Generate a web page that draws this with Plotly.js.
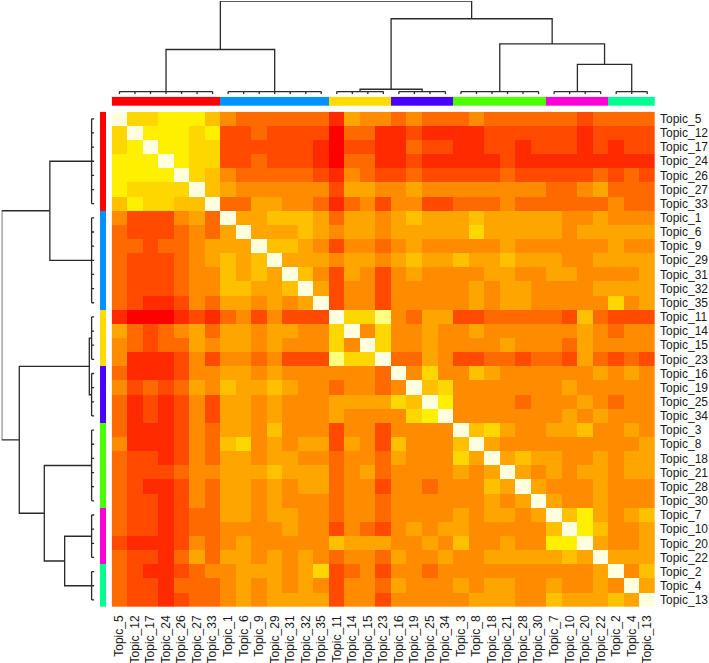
<!DOCTYPE html>
<html><head><meta charset="utf-8">
<script src="https://cdn.plot.ly/plotly-3.0.1.min.js"></script>
<style>html,body{margin:0;padding:0;background:#fff;} #chart{width:709px;height:663px;}</style>
</head><body><div id="chart"></div>
<script>
// ---------------- data ----------------
const topics = ['Topic_5','Topic_12','Topic_17','Topic_24','Topic_26','Topic_27','Topic_33',
  'Topic_1','Topic_6','Topic_9','Topic_29','Topic_31','Topic_32','Topic_35',
  'Topic_11','Topic_14','Topic_15','Topic_23',
  'Topic_16','Topic_19','Topic_25','Topic_34',
  'Topic_3','Topic_8','Topic_18','Topic_21','Topic_28','Topic_30',
  'Topic_7','Topic_10','Topic_20','Topic_22',
  'Topic_2','Topic_4','Topic_13'];
const clusterSizes = [7, 7, 4, 4, 6, 4, 3];
const clusterColors = ['#FF0000', '#0092FF', '#FFDB00', '#4900FF', '#49FF00', '#FF00DB', '#00FF92'];
// dendrogram: height of the (near-zero) merges inside each cluster, then merges [childA, childB, height]
// ids 0-6 = clusters, ids 7+ = merges in listed order
const clusterMergeHeight = 0.029;
const merges = [[2, 3, 0.054], [5, 6, 0.32], [4, 8, 0.54], [0, 1, 0.48], [7, 9, 0.81], [10, 11, 1.0]];
// colour levels (0 = red ... 10 = cream), upper triangle of the symmetric matrix, row i gives columns i..34
const upper = [
 [10,7,7,8,8,8,6, 4,3,3,3,3,3,3, 1,5,4,4, 3,4,3,3, 3,4,3,3,3,3,3,3,2,3,3,3,3],
 [10,8,8,8,7,8, 2,2,3,2,2,2,2, 0,3,3,1, 1,2,1,1, 1,1,2,2,2,2,2,2,1,2,2,2,2],
 [10,8,8,7,7, 2,2,2,2,2,2,1, 0,2,2,1, 1,3,2,2, 1,1,2,2,1,2,2,2,1,2,1,2,2],
 [10,8,7,7, 2,2,3,2,2,2,1, 0,3,3,1, 1,2,1,1, 1,1,1,2,1,1,1,1,1,1,1,1,1],
 [10,7,6, 4,3,3,3,3,3,2, 1,4,3,2, 2,3,2,2, 2,2,2,3,2,2,2,2,2,3,2,3,2],
 [10,6, 5,4,4,4,4,4,4, 2,5,5,4, 4,5,4,4, 4,4,4,4,4,4,3,3,4,5,3,3,3],
 [10, 3,3,5,5,4,4,3, 1,3,4,2, 4,4,2,2, 3,3,3,4,3,3,3,3,3,3,4,3,3],
 [10,5,5,6,6,6,5, 3,5,5,4, 5,6,5,5, 5,6,5,5,5,5,5,4,4,5,4,4,4],
 [10,5,5,5,6,5, 4,5,5,4, 5,5,5,5, 5,7,5,5,5,5,5,4,5,5,5,5,5],
 [10,6,6,5,4, 2,4,4,3, 4,5,4,4, 4,4,4,5,4,4,4,4,4,4,5,4,4],
 [10,5,5,5, 4,5,5,4, 5,6,5,5, 6,5,5,6,5,5,5,4,4,5,5,5,5],
 [10,6,4, 2,5,4,2, 4,5,4,4, 4,4,5,5,4,4,5,5,4,4,4,4,5],
 [10,5, 2,4,4,2, 4,4,4,4, 4,5,4,5,5,4,4,4,4,5,5,5,5],
 [10, 2,4,4,2, 4,4,4,4, 4,5,4,5,5,4,4,4,4,4,7,4,5],
 [10,7,7,9, 4,3,5,5, 2,2,3,3,3,3,3,2,6,3,2,2,2],
 [10,4,7, 4,4,5,4, 4,5,4,4,4,4,4,4,5,4,3,4,4],
 [10,7, 4,4,5,4, 4,4,4,5,4,4,4,3,5,4,4,4,4],
 [10, 3,3,5,4, 2,2,3,3,2,3,3,2,5,3,2,3,2],
 [10,4,7,4, 4,6,5,4,4,4,4,4,4,5,4,5,4],
 [10,6,7, 4,4,4,4,4,4,4,5,4,4,4,4,4],
 [10,8, 4,4,4,4,3,4,4,4,5,4,3,4,4],
 [10, 4,4,4,4,4,4,4,5,4,5,4,4,4],
 [10,6,7,5,4,4,5,5,6,4,4,5,4],
 [10,5,4,4,4,4,4,4,4,4,4,5],
 [10,5,6,5,5,4,4,5,4,5,5],
 [10,5,4,5,4,5,5,4,5,5],
 [10,5,4,4,4,5,4,4,4],
 [10,5,4,4,5,4,4,4],
 [10,6,8,5,4,5,6],
 [10,8,6,4,4,5],
 [10,5,4,4,5],
 [10,5,5,5],
 [10,4,6],
 [10,5],
 [10]
];
const levelColors = ['#FF0000','#FF2A00','#FF4A00','#FF6A00','#FF8C00','#FFA500','#FFC000','#FFD700','#FFF000','#FFFF80','#FFFFE0'];

// ---------------- build tables ----------------
const n = topics.length;
const z = Array.from({length: n}, () => new Array(n).fill(null));
upper.forEach((row, i) => row.forEach((v, k) => { z[i][i + k] = v; z[i + k][i] = v; }));
const clusterOf = [];
clusterSizes.forEach((s, c) => { for (let k = 0; k < s; k++) clusterOf.push(c); });

const nodePos = [], nodeH = [], segs = [];
let start = 0;
clusterSizes.forEach(s => {
  const first = start, last = start + s - 1;
  segs.push([[first, clusterMergeHeight], [last, clusterMergeHeight]]);
  for (let k = first; k <= last; k++) segs.push([[k, 0], [k, clusterMergeHeight]]);
  nodePos.push((first + last) / 2); nodeH.push(clusterMergeHeight);
  start += s;
});
merges.forEach(([a, b, h]) => {
  segs.push([[nodePos[a], nodeH[a]], [nodePos[a], h], [nodePos[b], h], [nodePos[b], nodeH[b]]]);
  nodePos.push((nodePos[a] + nodePos[b]) / 2); nodeH.push(h);
});
const dPos = [], dH = [];
segs.forEach(s => { s.forEach(([p, h]) => { dPos.push(p); dH.push(h); }); dPos.push(null); dH.push(null); });

// ---------------- geometry ----------------
const W = 709, H = 663;
const px = v => v / W, py = v => 1 - v / H;
const hmX = [px(111.7), px(655)];
const hmY = [py(607), py(111.7)];

const heatScale = levelColors.map((c, i) => [i / (levelColors.length - 1), c]);
const clusterScale = clusterColors.map((c, i) => [i / (clusterColors.length - 1), c]);
const tickFont = {family: 'Liberation Sans, Arial, sans-serif', size: 12, color: '#1a1a1a'};
const lineStyle = {color: '#2a2a2a', width: 1.3};

const traces = [
  {type: 'heatmap', x: topics, y: topics, z: z, colorscale: heatScale, zmin: 0, zmax: 10,
   showscale: false, xaxis: 'x', yaxis: 'y', hoverongaps: false},
  {type: 'heatmap', x: topics, y: ['grp'], z: [clusterOf], colorscale: clusterScale, zmin: 0, zmax: 6,
   showscale: false, xaxis: 'x', yaxis: 'y4'},
  {type: 'heatmap', x: ['grp'], y: topics, z: clusterOf.map(c => [c]), colorscale: clusterScale, zmin: 0, zmax: 6,
   showscale: false, xaxis: 'x5', yaxis: 'y'},
  {type: 'scatter', mode: 'lines', x: dPos, y: dH, line: lineStyle, xaxis: 'x2', yaxis: 'y2',
   cliponaxis: false, hoverinfo: 'skip', connectgaps: false},
  {type: 'scatter', mode: 'lines', x: dH, y: dPos, line: lineStyle, xaxis: 'x3', yaxis: 'y3',
   cliponaxis: false, hoverinfo: 'skip', connectgaps: false}
];

const hidden = {visible: false, showgrid: false, zeroline: false, fixedrange: true};
const layout = {
  width: W, height: H, margin: {l: 0, r: 0, t: 0, b: 0}, showlegend: false,
  paper_bgcolor: '#fff', plot_bgcolor: '#fff',
  xaxis: {domain: hmX, range: [-0.5, n - 0.5], anchor: 'y', side: 'bottom', tickangle: -90,
          showgrid: false, zeroline: false, ticks: '', tickfont: tickFont, automargin: false,
          showline: false, ticklabelstandoff: 5},
  yaxis: {domain: hmY, range: [n - 0.5, -0.5], anchor: 'x', side: 'right',
          showgrid: false, zeroline: false, ticks: '', tickfont: tickFont, automargin: false,
          showline: false, ticklabelstandoff: 4},
  xaxis2: Object.assign({}, hidden, {domain: hmX, range: [-0.5, n - 0.5], anchor: 'y2'}),
  yaxis2: Object.assign({}, hidden, {domain: [py(94.3), py(1)], range: [0, 1], anchor: 'x2'}),
  xaxis3: Object.assign({}, hidden, {domain: [px(1.7), px(94.3)], range: [1, 0], anchor: 'y3'}),
  yaxis3: Object.assign({}, hidden, {domain: hmY, range: [n - 0.5, -0.5], anchor: 'x3'}),
  yaxis4: Object.assign({}, hidden, {domain: [py(106), py(96.7)], anchor: 'x'}),
  xaxis5: Object.assign({}, hidden, {domain: [px(100), px(106.3)], anchor: 'y'})
};
Plotly.newPlot('chart', traces, layout, {displayModeBar: false, staticPlot: true});
</script>
</body></html>
